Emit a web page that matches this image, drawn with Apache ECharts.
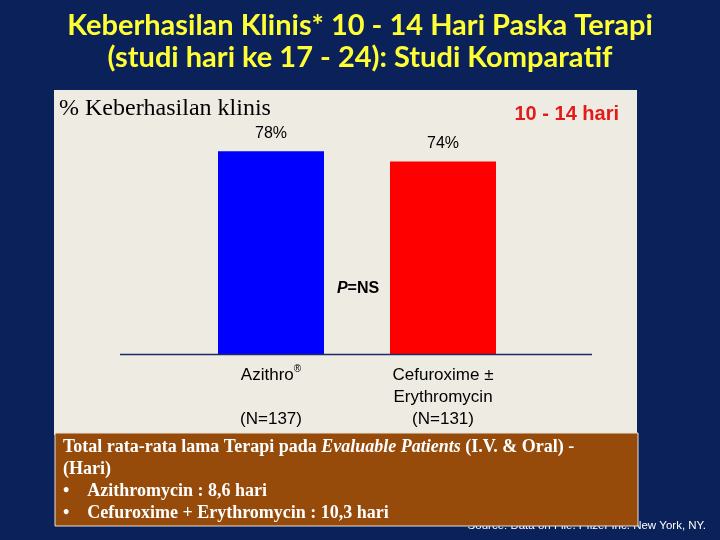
<!DOCTYPE html>
<html>
<head>
<meta charset="utf-8" />
<title>Keberhasilan Klinis 10 - 14 Hari</title>
<script src="https://cdn.jsdelivr.net/npm/echarts@6/dist/echarts.min.js"></script>
<style type="text/css">
body, html {
	margin: 0;
	padding: 0;
	background-color: #0b215a;
}
#chart {
	width: 720px;
	height: 540px;
}
</style>
</head>
<body>
	<div id="chart"></div>
	<script>
		// data
		let categories = ['Azithro{sup|®}\n \n(N=137)', 'Cefuroxime ±\nErythromycin\n(N=131)'];
		let successRate = [78, 74];
		let barColors = ['#0000FF', '#FF0000'];
		let boxLines = [
			'Total rata-rata lama Terapi pada {bi|Evaluable Patients} (I.V. & Oral) -',
			'(Hari)',
			'•    Azithromycin : 8,6 hari',
			'•    Cefuroxime + Erythromycin : 10,3 hari'
		];

		let seriesData = [];
		for (let i = 0; i < successRate.length; i++) {
			seriesData.push({
				value: successRate[i],
				itemStyle: { color: barColors[i] }
			});
		}

		let chart = echarts.init(document.getElementById('chart'));
		chart.setOption({
			backgroundColor: '#0b215a',
			animation: false,
			title: {
				text: 'Keberhasilan Klinis* 10 - 14 Hari Paska Terapi\n(studi hari ke 17 - 24): Studi Komparatif',
				left: 'center',
				top: 5,
				textStyle: {
					color: '#FFFF33',
					fontFamily: 'Lato',
					fontWeight: 'bold',
					fontSize: 29,
					lineHeight: 32
				}
			},
			grid: {
				left: 185,
				right: 191,
				top: 94,
				bottom: 186
			},
			xAxis: {
				type: 'category',
				data: categories,
				axisLine: { show: false },
				axisTick: { show: false },
				axisLabel: {
					margin: 10,
					color: '#000',
					fontFamily: 'Liberation Sans',
					fontSize: 17,
					lineHeight: 22,
					interval: 0,
					rich: {
						sup: {
							fontFamily: 'Liberation Sans',
							fontSize: 10,
							verticalAlign: 'top',
							lineHeight: 22,
							color: '#000'
						}
					}
				}
			},
			yAxis: {
				type: 'value',
				min: 0,
				max: 100,
				show: false,
				splitLine: { show: false }
			},
			series: [
				{
					type: 'bar',
					barWidth: 106,
					data: seriesData,
					label: {
						show: true,
						position: 'top',
						distance: 10,
						formatter: '{c}%',
						color: '#000',
						fontFamily: 'Liberation Sans',
						fontSize: 16
					}
				}
			],
			graphic: [
				// light panel behind the bars
				{
					type: 'rect',
					z: -1,
					shape: { x: 54, y: 90, width: 583, height: 345 },
					style: { fill: '#EEEBE3' }
				},
				// baseline
				{
					type: 'line',
					z: 5,
					shape: { x1: 120, y1: 354.5, x2: 592, y2: 354.5 },
					style: { stroke: '#1c2a66', lineWidth: 1.5 }
				},
				{
					type: 'text',
					z: 5,
					left: 59,
					top: 97,
					style: {
						text: '% Keberhasilan klinis',
						fill: '#000',
						font: '24px "Liberation Serif"'
					}
				},
				{
					type: 'text',
					z: 5,
					right: 101,
					top: 104,
					style: {
						text: '10 - 14 hari',
						fill: '#E31B1B',
						font: 'bold 20px "Liberation Sans"'
					}
				},
				{
					type: 'text',
					z: 5,
					x: 358,
					y: 289,
					style: {
						text: '{i|P}=NS',
						align: 'center',
						verticalAlign: 'middle',
						fill: '#000',
						font: 'bold 16px "Liberation Sans"',
						rich: {
							i: {
								fontStyle: 'italic',
								fontWeight: 'bold',
								fontFamily: 'Liberation Sans',
								fontSize: 16,
								fill: '#000'
							}
						}
					}
				},
				// source note, partly covered by the brown box
				{
					type: 'text',
					z: 8,
					x: 706,
					y: 526,
					style: {
						text: 'Source: Data on File. Pfizer Inc. New York, NY.',
						align: 'right',
						verticalAlign: 'middle',
						fill: '#FFFFFF',
						font: '11.5px "Liberation Sans"'
					}
				},
				// brown note box
				{
					type: 'rect',
					z: 9,
					shape: { x: 55, y: 433, width: 583, height: 93 },
					style: { fill: '#964B0B', stroke: '#E8E2D6', lineWidth: 1 }
				},
				{
					type: 'text',
					z: 10,
					left: 63,
					top: 436,
					style: {
						text: boxLines.join('\n'),
						fill: '#FFFFFF',
						font: 'bold 18px "Liberation Serif"',
						lineHeight: 22,
						rich: {
							bi: {
								fontStyle: 'italic',
								fontWeight: 'bold',
								fontFamily: 'Liberation Serif',
								fontSize: 18,
								lineHeight: 22,
								fill: '#FFFFFF'
							}
						}
					}
				}
			]
		});
	</script>
</body>
</html>
